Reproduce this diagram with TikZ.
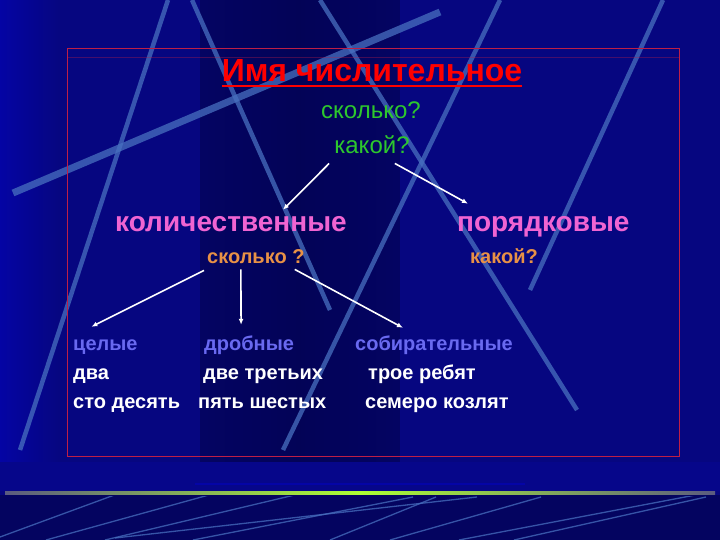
\documentclass[tikz,border=0pt]{standalone}
\usepackage{fontspec}
\setmainfont{Liberation Sans}
\usetikzlibrary{positioning,arrows.meta}

\definecolor{slideBg}{RGB}{6,6,128}
\definecolor{slideDark}{RGB}{4,4,96}
\definecolor{stripeBlue}{RGB}{72,112,192}
\definecolor{titleRed}{RGB}{255,0,0}
\definecolor{askGreen}{RGB}{45,200,45}
\definecolor{kindPink}{RGB}{240,100,210}
\definecolor{askOrange}{RGB}{232,145,70}
\definecolor{typeViolet}{RGB}{105,105,240}
\definecolor{frameRed}{RGB}{190,30,70}

\tikzset{title node/.style={text=titleRed,font=\fontsize{32}{36}\selectfont\bfseries,inner sep=0pt,anchor=base}}
\tikzset{ask node/.style={text=askGreen,font=\fontsize{24}{28}\selectfont,inner sep=0pt,anchor=base}}
\tikzset{kind node/.style={text=kindPink,font=\fontsize{28}{32}\selectfont\bfseries,inner sep=0pt,anchor=base west}}
\tikzset{sub node/.style={text=askOrange,font=\fontsize{20}{24}\selectfont\bfseries,inner sep=0pt,anchor=base west}}
\tikzset{type node/.style={text=typeViolet,font=\fontsize{20}{24}\selectfont\bfseries,inner sep=0pt,text height=15pt,text depth=4pt,anchor=base west}}
\tikzset{example node/.style={text=white,font=\fontsize{20}{24}\selectfont\bfseries,inner sep=0pt,text height=15pt,text depth=4pt}}
\tikzset{stripe/.style={stripeBlue,line width=4.5pt,opacity=0.75}}
\tikzset{thin stripe/.style={stripeBlue,line width=1.3pt,opacity=0.75}}

\begin{document}
\begin{tikzpicture}[x=1pt,y=-1pt,>={Latex[length=6pt,width=5pt]}]
    \useasboundingbox (0,0) rectangle (720,540);

    % slide background
    \fill[slideBg] (0,0) rectangle (720,540);
    \fill[left color=blue!28!slideBg,right color=slideBg] (0,0) rectangle (60,462);
    \fill[left color=slideBg,right color=slideDark,opacity=0.35] (200,0) rectangle (300,462);
    \fill[left color=slideDark,right color=slideBg,opacity=0.35] (300,0) rectangle (400,462);
    \begin{scope}
        \clip (0,0) rectangle (720,462);
        \draw[stripe] (168,0) -- (20,450);
        \draw[stripe] (192,0) -- (330,310);
        \draw[stripe] (320,0) -- (577,410);
        \draw[stripe] (500,0) -- (283,450);
        \draw[stripe] (663,0) -- (530,290);
        \draw[stripe,line width=7pt] (13,193) -- (440,12);
    \end{scope}

    % bottom band
    \fill[blue!8!slideBg] (0,462) rectangle (720,491);
    \draw[blue!30!slideBg,line width=1.5pt] (195,484) -- (525,484);
    \fill[slideDark] (0,495) rectangle (720,540);
    \shade[left color=gray!70!slideBg,right color=gray!70!slideBg,middle color=green!40!yellow!80!white] (5,491.5) rectangle (715,494.5);
    \begin{scope}
        \clip (0,496) rectangle (720,540);
        \draw[thin stripe] (0,537) -- (128,490);
        \draw[thin stripe] (46,540) -- (216,493);
        \draw[thin stripe] (105,540) -- (303,493);
        \draw[thin stripe] (115,538) -- (477,497);
        \draw[thin stripe] (193,540) -- (413,497);
        \draw[thin stripe] (330,540) -- (436,497);
        \draw[thin stripe] (390,540) -- (541,497);
        \draw[thin stripe] (459,540) -- (706,493);
        \draw[thin stripe] (514,540) -- (706,497);
    \end{scope}

    % frame
    \draw[frameRed,line width=0.8pt] (67,48) rectangle (679,456);
    \draw[frameRed,opacity=0.35] (67,57) -- (679,57);

    % header
    \node[title node] (title) at (372,82) {Имя числительное};
    \draw[titleRed,line width=2pt] ([yshift=-4pt]title.base west) -- ([yshift=-4pt]title.base east);
    \node[ask node] (skolko) at (371,119) {сколько?};
    \node[ask node] (kakoy) at (372,154) {какой?};

    % two kinds
    \node[kind node] (kolich) at (115,232) {количественные};
    \node[kind node] (poryad) at (457,232) {порядковые};
    \node[sub node] (skolkoQ) at (207,263) {сколько ?};
    \node[sub node] (kakoyQ) at (470,263) {какой?};

    % columns
    \node[type node] (tselye) at (73,350) {целые};
    \node[example node] (dva) [below=10pt of tselye.south west,anchor=north west] {два};
    \node[example node] (stoDesyat) [below=10pt of dva.south west,anchor=north west] {сто десять};

    \node[type node] (drobnye) at (204,350) {дробные};
    \node[example node] (dveTretikh) [below=10pt of drobnye.south west,anchor=north west,xshift=-1pt] {две третьих};
    \node[example node] (pyatShestykh) [below=10pt of dveTretikh.south west,anchor=north west,xshift=-5pt] {пять шестых};

    \node[type node] (sobir) at (355,350) {собирательные};
    \node[example node] (troe) [below=10pt of sobir.south west,anchor=north west,xshift=13pt] {трое ребят};
    \node[example node] (semero) [below=10pt of troe.south west,anchor=north west,xshift=-3pt] {семеро козлят};

    \draw[white,line width=1.6pt,->] ([xshift=-5pt,yshift=-9pt]kakoy.south west) -- ([xshift=52pt,yshift=7pt]kolich.north);
    \draw[white,line width=1.6pt,->] ([xshift=-15pt,yshift=-9pt]kakoy.south east) -- ([xshift=11pt,yshift=13pt]poryad.north west);
    \draw[white,line width=1.6pt,->] ([xshift=-3pt,yshift=-7pt]skolkoQ.south west) -- ([xshift=-14pt,yshift=8pt]tselye.north);
    \draw[white,line width=1.6pt,->] ([xshift=-15pt,yshift=-6pt]skolkoQ.south) -- ([xshift=-8pt,yshift=10pt]drobnye.north);
    \draw[white,line width=1.6pt,->] ([xshift=-10pt,yshift=-6pt]skolkoQ.south east) -- ([xshift=-31pt,yshift=7pt]sobir.north);
\end{tikzpicture}
\end{document}
